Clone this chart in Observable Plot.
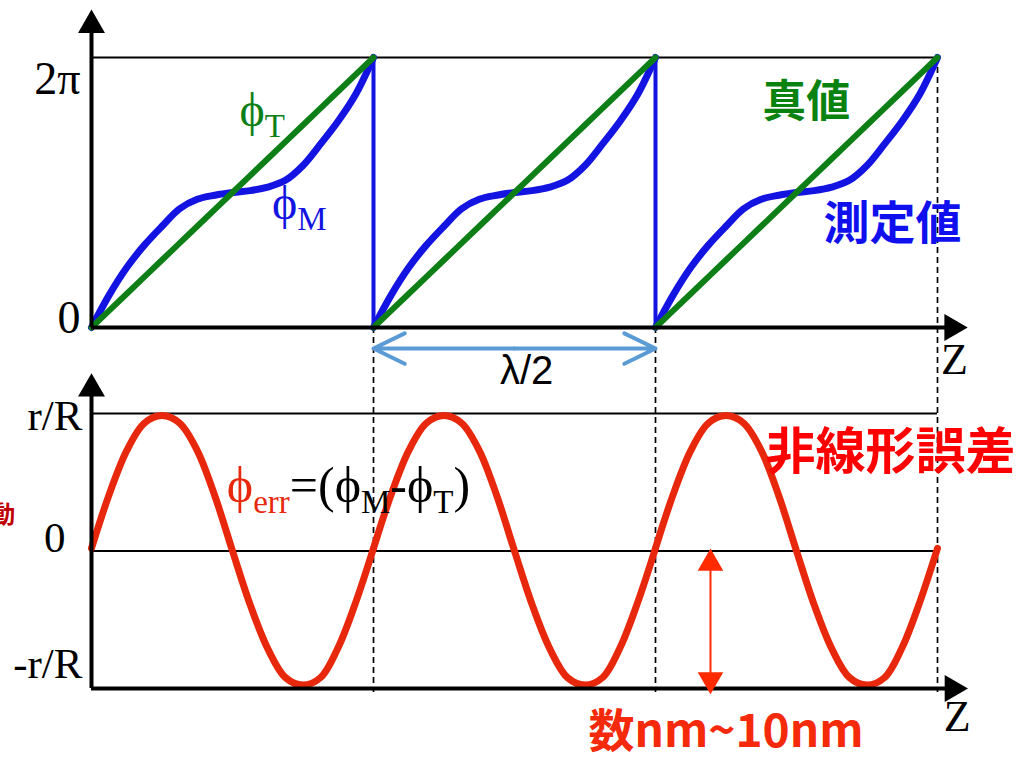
<!DOCTYPE html>
<html><head><meta charset="utf-8">
<script src="https://cdn.jsdelivr.net/npm/d3@7"></script>
<script src="https://cdn.jsdelivr.net/npm/@observablehq/plot@0.6"></script>
<style>
body{margin:0;background:#fff;}
#wrap{position:relative;width:1025px;height:761px;overflow:hidden;background:#fff;}
#wrap svg{position:absolute;left:0;top:0;}
</style></head><body><div id="wrap"></div>
<script>
// ---- data (one λ/2 period, repeated for each period shown) ----
const periods = [0, 1, 2];
const phase = [0, 0.0625, 0.125, 0.1875, 0.25, 0.3125, 0.375, 0.4375, 0.5, 0.5625, 0.625, 0.6875, 0.75, 0.8125, 0.875, 0.9375, 1];
// true phase φT (fraction of 2π)
const phiTrue = [0, 0.0625, 0.125, 0.1875, 0.25, 0.3125, 0.375, 0.4375, 0.5, 0.5625, 0.625, 0.6875, 0.75, 0.8125, 0.875, 0.9375, 1];
// measured phase φM (fraction of 2π)
const phiMeasured = [0, 0.12, 0.222, 0.305, 0.375, 0.44, 0.475, 0.49, 0.5, 0.507, 0.52, 0.545, 0.6, 0.68, 0.765, 0.865, 1];
// nonlinear error φerr (units of r/R)
const phiErr = [0.02, 0.41, 0.73, 0.93, 0.985, 0.93, 0.73, 0.40, 0.0, -0.39, -0.71, -0.92, -0.975, -0.92, -0.70, -0.37, 0.02];
const boundaries = [1, 2, 3];
const topTicks = [0, 1];
const topTickLabels = ["0", "2π"];
const bottomTicks = [1, 0, -1];
const bottomTickLabels = ["r/R", "0", "-r/R"];

const rows = periods.flatMap(p => phase.map((f, i) => ({
  z: p + f, period: p, t: phiTrue[i], m: phiMeasured[i], e: phiErr[i]
})));

const GREEN = "#0e7f16", BLUE = "#1414e2", RED = "#e8280c";
const SERIF = "Liberation Serif, DejaVu Serif, serif";
const CJK = "Noto Sans CJK JP, sans-serif";
const xScale = {domain: [0, 3], range: [91, 937]};

// ---- top panel ----
const topPlot = Plot.plot({
  width: 1025, height: 761,
  x: {...xScale, axis: null},
  y: {domain: [0, 1], range: [327, 57], axis: null},
  style: {background: "transparent", overflow: "visible"},
  marks: [
    Plot.ruleY([1], {x1: 0, x2: 3, stroke: "#000", strokeWidth: 1.8}),
    Plot.ruleX(boundaries, {y1: 1, y2: -1.352, stroke: "#000", strokeWidth: 1.7, strokeDasharray: "6,4"}),
    Plot.line(rows, {x: "z", y: "m", z: "period", stroke: BLUE, strokeWidth: 7, curve: "catmull-rom"}),
    Plot.ruleX([1, 2], {y1: 0, y2: 1, stroke: BLUE, strokeWidth: 4}),
    Plot.line(rows, {x: "z", y: "t", z: "period", stroke: GREEN, strokeWidth: 6}),
    // axes
    Plot.ruleX([0], {y1: 0, y2: 1.1, stroke: "#000", strokeWidth: 4}),
    Plot.ruleY([0], {x1: 0, x2: 3.03, stroke: "#000", strokeWidth: 4}),
    Plot.dot([0], {x: 0, y: 1.12, symbol: "triangle", r: 10, fill: "#000", stroke: null}),
    Plot.dot([0], {x: 3.052, y: 0, symbol: "triangle", r: 10, fill: "#000", stroke: null, rotate: 90}),
    Plot.text(["Z"], {x: 3.06, y: -0.119, text: d => d, fontSize: 44, fontFamily: SERIF, fill: "#000"}),
    ...topTicks.map((v, i) => Plot.text([topTickLabels[i]], {x: 0, y: v, text: d => d, textAnchor: "end", dx: -11, dy: i === 1 ? 22 : -9, fontSize: 46, fontFamily: SERIF, fill: "#000"})),
    // λ/2 arrow
    Plot.arrow([{a: 1.5, b: 1}, {a: 1.5, b: 2}], {x1: "a", x2: "b", y1: -0.078, y2: -0.078, stroke: "#5b9bd5", strokeWidth: 4, headLength: 13, headAngle: 52, strokeLinecap: "round", strokeLinejoin: "round"}),
    Plot.text(["λ/2"], {x: 1.543, y: -0.163, text: d => d, fontSize: 40, fontFamily: "Liberation Sans, sans-serif", fill: "#000"}),
    // labels
    Plot.text(["ϕT"], {x: 0.525, y: 0.804, text: d => d, textAnchor: "start", fontSize: 48, fontFamily: SERIF, fill: GREEN}),
    Plot.text(["ϕM"], {x: 0.64, y: 0.459, text: d => d, textAnchor: "start", fontSize: 48, fontFamily: SERIF, fill: BLUE}),
    Plot.text(["真値"], {x: 2.535, y: 0.833, text: d => d, fontSize: 44, fontWeight: "bold", fontFamily: CJK, fill: "#0a820f"}),
    Plot.text(["測定値"], {x: 2.84, y: 0.381, text: d => d, fontSize: 46, fontWeight: "bold", fontFamily: CJK, fill: "#1010ee"})
  ]
});

// ---- bottom panel ----
const bottomPlot = Plot.plot({
  width: 1025, height: 761,
  x: {...xScale, axis: null},
  y: {domain: [-1, 1], range: [688, 413], axis: null},
  style: {background: "transparent", overflow: "visible"},
  marks: [
    Plot.ruleY([1, 0], {x1: 0, x2: 3, stroke: "#000", strokeWidth: 1.8}),
    Plot.line(rows, {x: "z", y: "e", z: "period", stroke: RED, strokeWidth: 7, curve: "catmull-rom"}),
    Plot.ruleX([0], {y1: -1, y2: 1.15, stroke: "#000", strokeWidth: 4}),
    Plot.ruleY([-1], {x1: 0, x2: 3.03, stroke: "#000", strokeWidth: 4}),
    Plot.dot([0], {x: 0, y: 1.18, symbol: "triangle", r: 10, fill: "#000", stroke: null}),
    Plot.dot([0], {x: 3.053, y: -1, symbol: "triangle", r: 10, fill: "#000", stroke: null, rotate: 90}),
    Plot.text(["Z"], {x: 3.07, y: -1.21, text: d => d, fontSize: 44, fontFamily: SERIF, fill: "#000"}),
    ...bottomTicks.map((v, i) => Plot.text([bottomTickLabels[i]], {x: 0, y: v, text: d => d, textAnchor: "end", dx: i === 1 ? -26 : -9, dy: [3, -13, -24][i], fontSize: 43, fontFamily: SERIF, fill: "#000"})),
    // amplitude arrow
    Plot.ruleX([2.195], {y1: -0.08, y2: -0.92, stroke: "#ff2a00", strokeWidth: 2}),
    Plot.dot([0], {x: 2.195, y: -0.09, symbol: "triangle", r: 9.5, fill: "#ff2a00", stroke: null}),
    Plot.dot([0], {x: 2.195, y: -0.935, symbol: "triangle", r: 9.5, fill: "#ff2a00", stroke: null, rotate: 180}),
    // labels
    Plot.text(["ϕerr=(ϕM-ϕT)"], {x: 0.48, y: 0.47, text: d => d, textAnchor: "start", fontSize: 50, fontFamily: SERIF, fill: "#000"}),
    Plot.text(["非線形誤差"], {x: 2.833, y: 0.715, text: d => d, fontSize: 50, fontWeight: "bold", fontFamily: CJK, fill: "#ff0000"}),
    Plot.text(["数nm~10nm"], {x: 2.25, y: -1.32, text: d => d, fontSize: 46, fontWeight: "bold", fontFamily: CJK, fill: "#f52a0a"}),
    Plot.text(["動"], {x: -0.27, y: 0.26, text: d => d, textAnchor: "end", fontSize: 24, fontWeight: "bold", fontFamily: CJK, fill: "#c00000"})
  ]
});

const wrap = document.getElementById("wrap");
wrap.appendChild(topPlot);
wrap.appendChild(bottomPlot);

// rich text: subscripts and coloured parts
const rich = {
  "ϕT": [["ϕ"], ["T", 1]],
  "ϕM": [["ϕ"], ["M", 1]],
  "ϕerr=(ϕM-ϕT)": [["ϕ", 0, RED], ["err", 1, RED], ["=(ϕ"], ["M", 1], ["-ϕ"], ["T", 1], [")"]]
};
wrap.querySelectorAll("text").forEach(t => {
  const segs = rich[t.textContent];
  if (!segs) return;
  t.textContent = "";
  let shifted = false;
  for (const [s, sub, fill] of segs) {
    const ts = document.createElementNS("http://www.w3.org/2000/svg", "tspan");
    ts.textContent = s;
    if (sub && !shifted) { ts.setAttribute("dy", "11"); shifted = true; }
    else if (!sub && shifted) { ts.setAttribute("dy", "-11"); shifted = false; }
    if (sub) ts.setAttribute("font-size", "33");
    if (fill) ts.setAttribute("fill", fill);
    t.appendChild(ts);
  }
});
</script></body></html>
